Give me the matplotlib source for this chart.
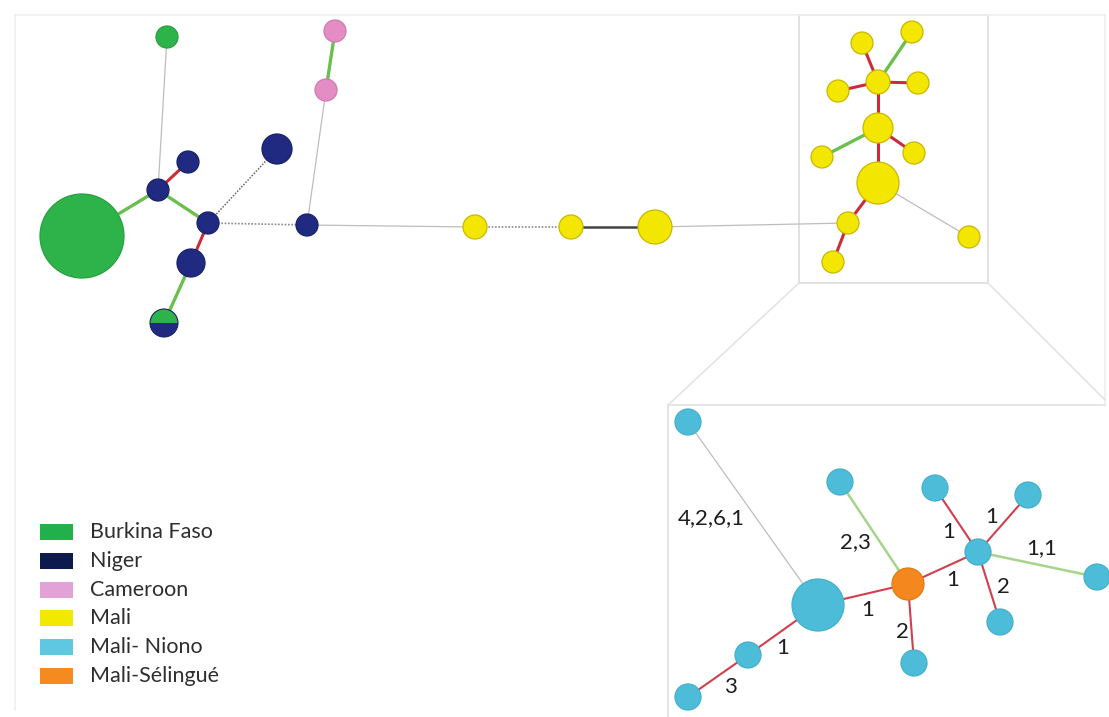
import matplotlib.pyplot as plt
from matplotlib.patches import Circle, Wedge, Rectangle
import numpy as np

plt.rcParams['font.family'] = ['Lato', 'DejaVu Sans']

# group colours
groups = ['Burkina Faso', 'Niger', 'Cameroon', 'Mali', 'Mali- Niono', 'Mali-Sélingué']
group_colors = ['#2db34a', '#1f2a80', '#e48cc4', '#f3e600', '#4cbcd8', '#f5871f']
legend_colors = ['#22b04b', '#0c1a4e', '#e3a2d6', '#f1ea00', '#5ec8e0', '#f58a1f']
node_edge = {'Burkina Faso': '#27a043', 'Niger': '#18226a', 'Cameroon': '#d07ab0',
             'Mali': '#c9b800', 'Mali- Niono': '#45b0cc', 'Mali-Sélingué': '#e07a15',
             'BF/Niger': '#18226a'}

# main network nodes (layout in picture pixels)
node_x = [82, 167, 158, 188, 208, 191, 164, 277, 307, 335, 326,
          475, 571, 655,
          878, 878, 878, 862, 912, 838, 918, 822, 914, 848, 833, 969]
node_y = [236, 37, 190, 162, 223, 263, 323, 149, 225, 31, 90,
          227, 227, 227,
          183, 128, 82, 43, 32, 91, 83, 157, 153, 223, 262, 237]
node_r = [42, 11, 11, 11, 11, 14, 14, 15, 11, 11, 11,
          12, 12, 17,
          21, 15, 12, 11, 11, 11, 11, 11, 11, 11, 11, 11]
node_group = ['Burkina Faso', 'Burkina Faso', 'Niger', 'Niger', 'Niger', 'Niger', 'BF/Niger',
              'Niger', 'Niger', 'Cameroon', 'Cameroon',
              'Mali', 'Mali', 'Mali',
              'Mali', 'Mali', 'Mali', 'Mali', 'Mali', 'Mali', 'Mali', 'Mali', 'Mali',
              'Mali', 'Mali', 'Mali']

# main network links: (from, to, kind)
edge_from = [0, 2, 2, 2, 4, 5, 4, 4, 8, 10, 8, 11, 12, 13,
             16, 16, 16, 16, 16, 15, 15, 15, 14, 23, 14]
edge_to = [2, 3, 1, 4, 5, 6, 7, 8, 10, 9, 11, 12, 13, 23,
           17, 18, 19, 20, 15, 21, 22, 14, 23, 24, 25]
edge_kind = ['green', 'red', 'thin', 'green', 'red', 'green', 'dotdark', 'dot', 'thin', 'green',
             'thin', 'dot', 'solid', 'thin',
             'red', 'green', 'red', 'red', 'red', 'green', 'red', 'red', 'red', 'red', 'thin']

# inset (Mali detail)
ins_x = [688, 818, 908, 978, 840, 935, 1028, 1097, 1000, 914, 748, 688]
ins_y = [422, 605, 584, 552, 482, 488, 495, 577, 622, 663, 655, 697]
ins_r = [13, 26, 16, 13, 13, 13, 13, 13, 13, 13, 13, 13]
ins_group = ['Mali- Niono', 'Mali- Niono', 'Mali-Sélingué'] + ['Mali- Niono'] * 9
ins_from = [0, 1, 2, 2, 2, 3, 3, 3, 3, 1, 10]
ins_to = [1, 2, 4, 3, 9, 5, 6, 7, 8, 10, 11]
ins_kind = ['thin', 'ired', 'lgreen', 'ired', 'ired', 'ired', 'ired', 'lgreen', 'ired', 'ired', 'ired']
ins_label = ['4,2,6,1', '1', '2,3', '1', '2', '1', '1', '1,1', '2', '1', '3']
ins_label_x = [711, 868, 855, 953, 902, 949, 992, 1042, 1003, 783, 730]
ins_label_y = [518, 610, 542, 580, 632, 532, 517, 548, 587, 648, 687]

edge_style = {
    'green': dict(color='#6cbf4e', lw=2.4, ls='-'),
    'lgreen': dict(color='#a6d58a', lw=1.8, ls='-'),
    'red': dict(color='#cc2c3a', lw=2.2, ls='-'),
    'ired': dict(color='#cf3f4c', lw=1.5, ls='-'),
    'thin': dict(color='#bdbdbd', lw=0.9, ls='-'),
    'dot': dict(color='#8a8a8a', lw=1.2, ls=(0, (1, 1))),
    'dotdark': dict(color='#666666', lw=1.1, ls=(0, (1, 1))),
    'solid': dict(color='#444444', lw=1.8, ls='-'),
}

fig = plt.figure(figsize=(11.09, 7.17), dpi=100)
ax = fig.add_axes([0, 0, 1, 1])
ax.set_xlim(0, 1109)
ax.set_ylim(717, 0)
ax.set_aspect('equal')
ax.axis('off')

frame = '#efefef'
# outer frame, zoom box and inset box
ax.plot([15, 1105], [15, 15], color=frame, lw=1.2)
ax.plot([15, 15], [15, 710], color=frame, lw=1.2)
ax.plot([1105, 1105], [15, 405], color=frame, lw=1.2)
ax.add_patch(Rectangle((799, 15), 189, 268, fill=False, ec='#d8d8d8', lw=1.1))
ax.plot([668, 1105], [405, 405], color='#dedede', lw=1.1)
ax.plot([668, 668], [405, 717], color='#dedede', lw=1.1)
ax.plot([799, 668], [283, 405], color='#e2e2e2', lw=1.1)
ax.plot([988, 1105], [283, 400], color='#e2e2e2', lw=1.1)


def draw_edges(xs, ys, src, dst, kinds):
    for a, b, k in zip(src, dst, kinds):
        st = edge_style[k]
        ax.plot([xs[a], xs[b]], [ys[a], ys[b]], color=st['color'], lw=st['lw'],
                ls=st['ls'], zorder=1, solid_capstyle='butt')


def draw_nodes(xs, ys, rs, gs):
    for x, y, r, g in zip(xs, ys, rs, gs):
        if g == 'BF/Niger':
            ax.add_patch(Wedge((x, y), r, 180, 360, fc=group_colors[0], ec='none', zorder=3))
            ax.add_patch(Wedge((x, y), r, 0, 180, fc=group_colors[1], ec='none', zorder=3))
            ax.add_patch(Circle((x, y), r, fill=False, ec=node_edge[g], lw=0.8, zorder=4))
        else:
            ax.add_patch(Circle((x, y), r, fc=group_colors[groups.index(g)],
                                ec=node_edge[g], lw=0.9, zorder=3))


draw_edges(node_x, node_y, edge_from, edge_to, edge_kind)
draw_nodes(node_x, node_y, node_r, node_group)
draw_edges(ins_x, ins_y, ins_from, ins_to, ins_kind)
draw_nodes(ins_x, ins_y, ins_r, ins_group)

for lab, lx, ly in zip(ins_label, ins_label_x, ins_label_y):
    ax.text(lx, ly, lab, fontsize=16, ha='center', va='center', color='#1e1e1e', zorder=5)

# legend
for i, (name, c) in enumerate(zip(groups, legend_colors)):
    yy = 532 + i * 28.8
    ax.add_patch(Rectangle((40, yy - 8), 33, 16, fc=c, ec='none'))
    ax.text(90, yy, name, fontsize=15.5, ha='left', va='center', color='#2e2e2e')

fig.savefig('out.png', dpi=100)
